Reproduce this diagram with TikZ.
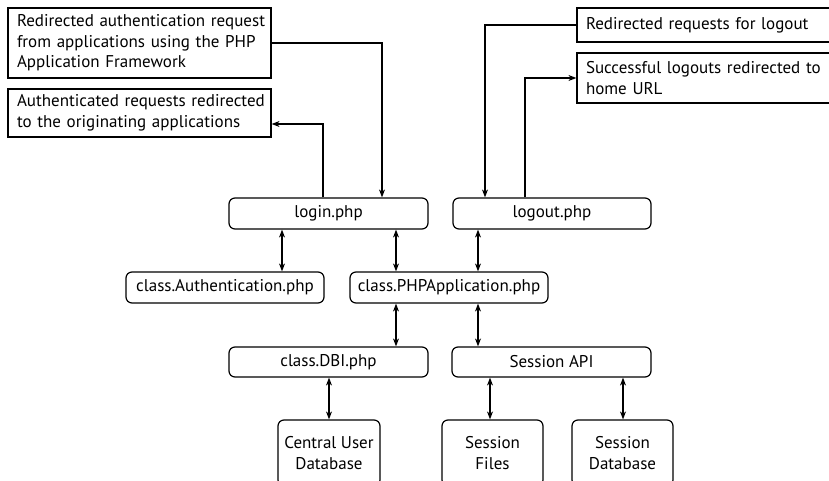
\documentclass[tikz,border=0pt]{standalone}
\usepackage{fontspec}
\setmainfont{PT Sans}
\usetikzlibrary{arrows.meta}
\tikzset{
  note/.style={draw, line width=1.2pt, rectangle, inner xsep=9pt, inner ysep=0pt,
    text width=245pt, align=left, font=\fontsize{17}{20.5}\selectfont},
  module/.style={draw, line width=1.2pt, rounded corners=6pt, inner sep=0pt,
    align=center, font=\fontsize{17}{20.5}\selectfont},
  link/.style={line width=1.2pt, -{Stealth[length=8pt,width=6pt]}},
  both/.style={line width=1.2pt, {Stealth[length=8pt,width=6pt]}-{Stealth[length=8pt,width=6pt]}}
}
\begin{document}
\begin{tikzpicture}[x=1pt,y=-1pt]
\useasboundingbox (0,0) rectangle (829,481);
\clip (0,0) rectangle (829,481);

% request notes
\node[note, minimum width=263pt, minimum height=70pt] (req) at (139.5,43)
  {\mbox{Redirected authentication request}\\\mbox{from applications using the PHP}\\\mbox{Application Framework}};
\node[note, minimum width=263pt, minimum height=48pt] (back) at (139.5,113)
  {\mbox{Authenticated requests redirected}\\\mbox{to the originating applications}};
\node[note, minimum width=263pt, minimum height=34pt] (lreq) at (708.5,25)
  {\mbox{Redirected requests for logout}};
\node[note, minimum width=263pt, minimum height=50pt] (home) at (708.5,78)
  {\mbox{Successful logouts redirected to}\\\mbox{home URL}};

% scripts and classes
\node[module, minimum width=199pt, minimum height=31pt] (login) at (328.5,213.5) {login.php};
\node[module, minimum width=198pt, minimum height=31pt] (logout) at (552,213.5) {logout.php};
\node[module, minimum width=198pt, minimum height=31pt] (auth) at (225,287.5) {class.Authentication.php};
\node[module, minimum width=198pt, minimum height=31pt] (app) at (449,287.5) {class.PHPApplication.php};
\node[module, minimum width=199pt, minimum height=30pt] (dbi) at (328.5,362) {class.DBI.php};
\node[module, minimum width=199pt, minimum height=30pt] (sapi) at (551.5,362) {Session API};

% storage
\node[module, minimum width=102pt, minimum height=66pt] (cud) at (329,453) {Central User\\Database};
\node[module, minimum width=101pt, minimum height=66pt] (sf) at (492.5,453) {Session\\Files};
\node[module, minimum width=101pt, minimum height=66pt] (sdb) at (622.5,453) {Session\\Database};

% connector columns
\coordinate (xin) at (382,0);
\coordinate (xout) at (323,124);
\coordinate (xlin) at (485,0);
\coordinate (xlout) at (525,0);
\coordinate (xa) at (282,0);
\coordinate (xb) at (396,0);
\coordinate (xc) at (478,0);
\coordinate (xd) at (329,0);
\coordinate (xe) at (490,0);
\coordinate (xf) at (623,0);

% redirects
\draw[link] (req.east) -| (login.north -| xin);
\draw[link] (login.north -| xout) |- (back.east |- xout);
\draw[link] (lreq.west) -| (logout.north -| xlin);
\draw[link] (logout.north -| xlout) |- (home.west);

% calls between components
\draw[both] (login.south -| xa) -- (auth.north -| xa);
\draw[both] (login.south -| xb) -- (app.north -| xb);
\draw[both] (logout.south -| xc) -- (app.north -| xc);
\draw[both] (app.south -| xb) -- (dbi.north -| xb);
\draw[both] (app.south -| xc) -- (sapi.north -| xc);
\draw[both] (dbi.south -| xd) -- (cud.north -| xd);
\draw[both] (sapi.south -| xe) -- (sf.north -| xe);
\draw[both] (sapi.south -| xf) -- (sdb.north -| xf);
\end{tikzpicture}
\end{document}
